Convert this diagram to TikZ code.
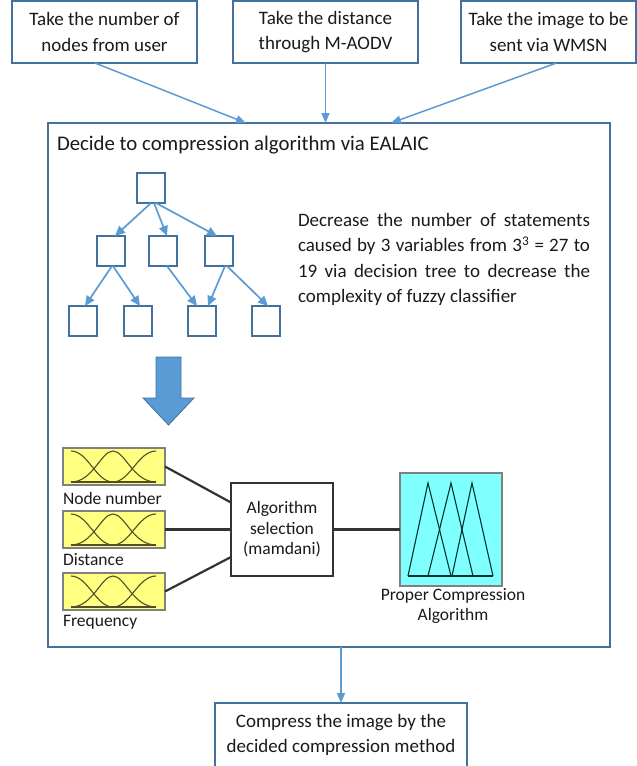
\documentclass[tikz,border=0pt]{standalone}
\usepackage{fontspec}
\setmainfont{Carlito}
\usetikzlibrary{arrows.meta,calc}
\definecolor{boxblue}{HTML}{41719C}
\definecolor{arrblue}{HTML}{5B9BD5}
\definecolor{fzyellow}{HTML}{FFFF80}
\definecolor{fzcyan}{HTML}{80FFFF}
\definecolor{fzline}{HTML}{333333}
\definecolor{txt}{HTML}{1A1A1A}
\newcommand\fuzzycurves[1]{%
  \begin{scope}[shift={(#1.north west)}, draw=black!55!olive, line width=1.1pt]
    \draw (8,34) -- (93,34);
    \draw (8,3) .. controls (25,3) and (33,34) .. (50,34);
    \draw (8,34) .. controls (30,34) and (38,3) .. (50,3) .. controls (62,3) and (70,34) .. (93,34);
    \draw (50,34) .. controls (67,34) and (75,3) .. (93,3);
  \end{scope}}
\begin{document}
\begin{tikzpicture}[x=1pt,y=-1pt,
  every node/.style={inner sep=0pt, outer sep=0pt},
  bluebox/.style={draw=boxblue, line width=1.8pt, fill=white, align=center,
    font=\fontsize{19}{25.5}\selectfont, text=txt, anchor=north west},
  conn/.style={draw=arrblue, line width=1.5pt, -{Triangle[length=10pt,width=8pt]}},
  tconn/.style={draw=arrblue, line width=1.7pt, -{Triangle[length=10pt,width=9pt]}},
  treebox/.style={draw=boxblue, line width=1.8pt, minimum width=28, minimum height=30},
  yelbox/.style={draw=black!50, fill=fzyellow, line width=1.3pt, minimum width=102, minimum height=37, anchor=north west},
  fzlabel/.style={font=\fontsize{17.5}{20.5}\selectfont, text=txt, anchor=base west},
  wire/.style={draw=fzline, line width=2.2pt}]
\useasboundingbox (0,0) rectangle (637,766);

% top boxes
\node[bluebox, minimum width=185, minimum height=62] (t1) at (12,1) {Take the number of\\nodes from user};
\node[bluebox, minimum width=185, minimum height=62] (t2) at (233,1) {Take the distance\\through M-AODV};
\node[bluebox, minimum width=175, minimum height=62] (t3) at (461,1) {Take the image to be\\sent via WMSN};

% main box
\node[draw=boxblue, line width=1.8pt, minimum width=562, minimum height=524, anchor=north west] (main) at (48,123) {};
\node[font=\fontsize{20.8}{25.5}\selectfont, text=txt, anchor=base west] (title) at (57,150) {Decide to compression algorithm via EALAIC};

\draw[conn] ($(t1.south)+(-9.5,0)$) -- ($(main.north)+(-83,0)$);
\draw[conn] (t2.south) -- (t2.south |- main.north);
\draw[conn] ($(t3.south)+(8,0)$) -- ($(main.north)+(62,0)$);

% tree
\node[treebox] (r) at (151,188) {};
\node[treebox] (a) at (111,251) {};
\node[treebox] (b) at (163,251) {};
\node[treebox] (c) at (219,251) {};
\node[treebox] (d) at (83,321) {};
\node[treebox] (e) at (138,321) {};
\node[treebox] (f) at (202,321) {};
\node[treebox] (g) at (266,321) {};
\draw[tconn] ($(r.south)+(0,0)$) -- ($(a.north)+(4,0)$);
\draw[tconn] ($(r.south)+(3,0)$) -- ($(b.north)+(4,0)$);
\draw[tconn] ($(r.south)+(5,0)$) -- ($(c.north)+(-2,0)$);
\draw[tconn] ($(a.south)+(1,0)$) -- ($(d.north)+(2,0)$);
\draw[tconn] ($(a.south)+(2,0)$) -- ($(e.north)+(2,0)$);
\draw[tconn] ($(b.south)+(4,0)$) -- ($(f.north)+(-5,0)$);
\draw[tconn] ($(c.south)+(6,0)$) -- ($(f.north)+(6,0)$);
\draw[tconn] ($(c.south)+(8,0)$) -- ($(g.north)+(2,0)$);

% paragraph
\node[text width=292, align=justify, anchor=north west, font=\fontsize{19}{25.5}\selectfont, text=txt] (para) at (298,213)
  {\hyphenpenalty=10000 Decrease the number of statements caused by 3 variables from 3\textsuperscript{3} = 27 to 19 via decision tree to decrease the complexity of fuzzy classifier};

% big arrow
\draw[fill=arrblue, draw=boxblue, line width=0.8pt] (156,357) -- (181,357) -- (181,398) -- (194,398) -- (168.5,425) -- (143,398) -- (156,398) -- cycle;

% fuzzy inputs
\node[yelbox] (y1) at (63,448) {};
\node[yelbox] (y2) at (63,511) {};
\node[yelbox] (y3) at (63,573) {};
\fuzzycurves{y1}
\fuzzycurves{y2}
\fuzzycurves{y3}
\node[fzlabel] (l1) at (63,504) {Node number};
\node[fzlabel] (l2) at (63,565) {Distance};
\node[fzlabel] (l3) at (63,626) {Frequency};

% algorithm box
\node[draw=fzline, line width=1.6pt, fill=white, minimum width=102, minimum height=93, anchor=north west,
  align=center, font=\fontsize{17.5}{20.5}\selectfont, text=txt] (alg) at (231,483) {Algorithm\\selection\\(mamdani)};

% output box
\node[draw=black!50, fill=fzcyan, line width=1.3pt, minimum width=102, minimum height=113, anchor=north west] (cy) at (400,473) {};
\begin{scope}[shift={(cy.north west)}, draw=black!60!teal, line width=1.1pt]
  \draw (8,103) -- (93,103);
  \draw (8,103) -- (28,10) -- (51,103);
  \draw (28,103) -- (51,10) -- (73,103);
  \draw (52,103) -- (72,10) -- (93,103);
\end{scope}
\node[align=center, font=\fontsize{17.5}{20.5}\selectfont, text=txt] (cyl) at (453,606) {Proper Compression\\Algorithm};

\draw[wire] (y1.east) -- ($(alg.west)+(0,-27)$);
\draw[wire] (y2.east) -- (alg.west);
\draw[wire] (y3.east) -- ($(alg.west)+(0,27.5)$);
\draw[wire] (alg.east) -- (cy.west);

% bottom box
\node[bluebox, minimum width=252, minimum height=64] (bot) at (215,703) {Compress the image by the\\decided compression method};
\coordinate (ms) at ($(main.south)+(12,0)$);
\draw[conn] (ms) -- (ms |- bot.north);
\end{tikzpicture}
\end{document}
